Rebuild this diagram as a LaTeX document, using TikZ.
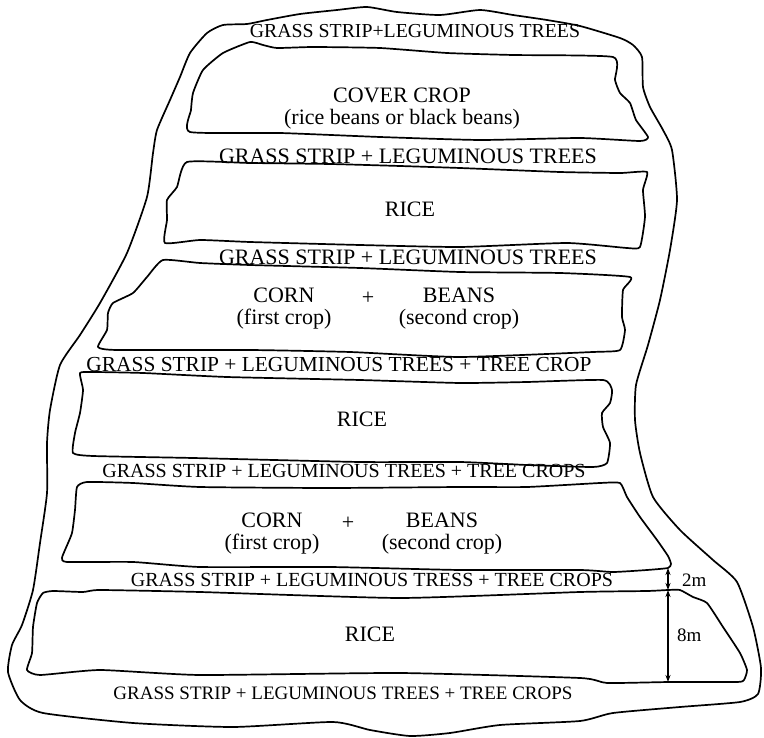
\documentclass[tikz,border=0pt]{standalone}
\usepackage{fontspec}
\setmainfont{Liberation Serif}
\usetikzlibrary{arrows.meta}
\begin{document}
\begin{tikzpicture}[x=1pt,y=-1pt,
  bound/.style={line width=1.7pt, line join=round, line cap=round},
  lbl/.style={font=\fontsize{22}{22}\selectfont, inner sep=0pt, align=center},
  dim/.style={line width=1.1pt, {Stealth[length=7pt,width=5pt]}-{Stealth[length=7pt,width=5pt]}},
  dimlbl/.style={font=\fontsize{19}{19}\selectfont, inner sep=0pt, anchor=west}]
\useasboundingbox (0,0) rectangle (764,738);
% outer boundary
\draw[bound] plot[smooth cycle, tension=0.35] coordinates {
 (223,25) (247,24) (267,20) (300,14) (337,10) (367,7) (397,12) (440,15) (480,10) (513,15)
 (547,20) (580,26) (620,38) (633,45) (642,57) (643,87) (650,107) (663,130) (672,150) (677,200)
 (670,250) (660,300) (648,345) (636,385) (635,420) (640,453) (653,497) (680,530)
 (713,560) (737,582) (753,627) (761,668) (758,694) (740,702) (680,707) (613,713)
 (580,721) (500,725) (450,733) (410,736) (370,730) (333,722) (233,727) (133,723)
 (43,713) (20,700) (8,672) (12,645) (22,625) (33,590) (40,543) (47,493) (47,443)
 (50,410) (60,365) (80,335) (100,303) (127,253) (147,197) (153,153) (157,130)
 (170,100) (180,77) (190,53) (207,33)};
% cover crop plot
\draw[bound] plot[smooth cycle, tension=0.3] coordinates {
 (190,132) (191,110) (193,93) (203,70) (223,53) (250,42) (263,45) (277,48)
 (313,47) (380,48) (447,53) (513,55) (613,57) (615,80) (620,93) (630,103)
 (636,120) (648,137) (640,141) (580,138) (480,140) (380,137) (280,133)};
% rice plot 1
\draw[bound] plot[smooth cycle, tension=0.3] coordinates {
 (187,162) (250,163) (330,164) (400,166) (460,168) (560,172) (620,173) (647,172)
 (643,190) (645,217) (640,247) (627,248) (567,243) (460,247) (360,245)
 (250,242) (200,240) (165,243) (167,220) (167,200) (177,187)};
% corn plot 1
\draw[bound] plot[smooth cycle, tension=0.3] coordinates {
 (163,260) (200,263) (250,265) (360,268) (460,272) (560,273) (630,277)
 (623,290) (622,317) (625,330) (620,350) (593,352) (460,357) (350,352)
 (250,350) (117,350) (98,347) (107,330) (108,313) (113,303) (133,293)
 (147,277)};
% rice plot 2
\draw[bound] plot[smooth cycle, tension=0.3] coordinates {
 (80,373) (93,372) (143,373) (227,377) (360,380) (460,383) (527,382)
 (603,380) (612,390) (610,403) (602,413) (603,427) (610,443) (607,463)
 (593,467) (527,465) (460,462) (360,462) (193,458) (93,456) (73,453)
 (75,433) (80,413) (83,390)};
% corn plot 2
\draw[bound] plot[smooth cycle, tension=0.3] coordinates {
 (77,487) (87,482) (133,483) (200,487) (330,488) (460,487) (527,487)
 (600,483) (620,483) (627,497) (640,517) (657,540) (668,556) (671,564)
 (668,568) (647,570) (613,572) (580,570) (460,570) (330,567) (200,567)
 (133,562) (67,562) (62,558) (65,550) (72,533) (75,510)};
% rice plot 3
\draw[bound] plot[smooth cycle, tension=0.3] coordinates {
 (43,593) (53,591) (83,592) (100,590) (200,592) (400,598) (580,592)
 (647,591) (668,590) (680,590) (693,597) (707,603) (723,627) (740,653)
 (747,670) (744,680) (737,682) (670,682) (607,683) (580,678) (400,673)
 (200,675) (100,670) (40,675) (27,670) (32,653) (33,627) (37,603)};
% dimension arrows
\coordinate (d2a) at (668,568);
\coordinate (d2b) at (668,590);
\coordinate (d8b) at (668,682);
\draw[dim] (d2a) -- (d2b);
\draw[dim] (d2b) -- (d8b);
\node[dimlbl] (l2m) at (682,580) {2m};
\node[dimlbl] (l8m) at (677,635) {8m};
% labels
\node[lbl, font=\fontsize{19.8}{22}\selectfont] (g1) at (415,31) {GRASS STRIP+LEGUMINOUS TREES};
\node[lbl] (cc) at (402,109) {COVER CROP\\(rice beans or black beans)};
\node[lbl] (g2) at (408,156) {GRASS STRIP + LEGUMINOUS TREES};
\node[lbl] (r1) at (410,209) {RICE};
\node[lbl] (g3) at (408,257) {GRASS STRIP + LEGUMINOUS TREES};
\node[lbl] (c1a) at (284,309) {CORN\\(first crop)};
\node[lbl] (c1p) at (368,298) {+};
\node[lbl] (c1b) at (459,309) {BEANS\\(second crop)};
\node[lbl, font=\fontsize{21.4}{22}\selectfont] (g4) at (339,365) {GRASS STRIP + LEGUMINOUS TREES + TREE CROP};
\node[lbl] (r2) at (362,419) {RICE};
\node[lbl, font=\fontsize{20}{22}\selectfont] (g5) at (344,471) {GRASS STRIP + LEGUMINOUS TREES + TREE CROPS};
\node[lbl] (c2a) at (272,534) {CORN\\(first crop)};
\node[lbl] (c2p) at (348,523) {+};
\node[lbl] (c2b) at (442,534) {BEANS\\(second crop)};
\node[lbl, font=\fontsize{20}{22}\selectfont] (g6) at (372,580) {GRASS STRIP + LEGUMINOUS TRESS + TREE CROPS};
\node[lbl] (r3) at (370,634) {RICE};
\node[lbl, font=\fontsize{19}{22}\selectfont] (g7) at (343,693) {GRASS STRIP + LEGUMINOUS TREES + TREE CROPS};
\end{tikzpicture}
\end{document}
